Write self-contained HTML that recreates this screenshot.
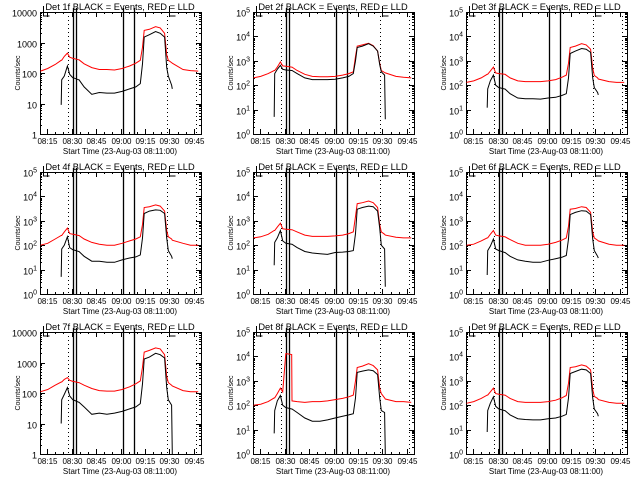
<!DOCTYPE html>
<html><head><meta charset="utf-8"><style>
html,body{margin:0;padding:0;background:#fff;}
svg{display:block;font-family:"Liberation Sans",sans-serif;}
</style></head><body>
<svg id="chart" width="640" height="480" viewBox="0 0 640 480" xmlns="http://www.w3.org/2000/svg"></svg>
<script>
// shared time grid: minutes after 08:00
const times = [11,15.4,20,23.7,24,25.6,27.5,28.9,30.8,31,34.4,34.6,37.7,42.4,47,51.7,56.3,61,65.6,69.4,72.1,73.5,74.5,77.7,81.5,84.3,87,88.3,89.3,91.3,91.7,98.3,102.9,107.6];
const n = null;
const panelNames = ["Det 1f","Det 2f","Det 3f","Det 4f","Det 5f","Det 6f","Det 7f","Det 8f","Det 9f"];
const panelDecades = [4,5,5,5,5,5,4,5,5];
const red1 = [115,140,190,260,260,350,450,330,300,300,270,270,200,150,130,130,125,140,170,210,260,700,2500,2700,3300,3000,2000,400,260,220,210,130,120,115];
const black1 = [n,n,n,9,60,80,170,90,70,70,60,60,35,20,23,22,22,25,30,35,45,200,1500,1800,2300,2000,1500,150,80,40,30,n,n,n];
const red2 = [200,230,300,400,400,550,900,620,600,600,550,550,400,280,230,220,220,230,260,300,350,1500,4000,4500,5200,4200,2500,800,400,330,320,230,210,200];
const black2 = [n,n,n,5,300,450,650,450,420,420,400,400,300,200,170,170,170,175,200,230,300,1000,3500,4000,5000,4000,2500,700,350,260,4,n,n,n];
const red3 = [130,150,200,280,280,380,550,320,300,300,280,280,200,150,140,140,140,150,170,210,260,800,3500,4000,5000,4500,3000,500,250,200,180,140,130,130];
const black3 = [n,n,n,12,70,150,260,100,80,80,70,70,45,30,28,28,27,30,32,38,45,200,2000,2500,3200,3000,2200,200,80,50,40,n,n,n];
const red4 = [100,120,180,250,250,350,500,300,280,280,250,250,180,130,110,100,100,120,150,180,220,700,3500,3800,4500,4000,2500,400,220,180,160,120,100,100];
const black4 = [n,n,n,5,70,100,220,80,65,65,55,55,35,22,22,20,20,25,30,33,40,200,2000,2500,2800,2700,2000,200,60,35,28,n,n,n];
const red5 = [200,220,280,400,400,550,800,470,450,450,430,430,350,260,230,230,230,240,260,300,350,1500,5000,5500,6500,5500,3500,700,350,280,260,210,200,200];
const black5 = [n,n,n,15,130,200,400,150,120,120,110,110,80,55,48,45,42,50,52,55,60,300,3000,3500,4000,3800,2500,500,100,70,2,n,n,n];
const red6 = [100,110,150,200,200,280,400,260,240,240,220,220,170,120,100,100,100,110,130,160,200,600,3000,3200,3800,3500,2200,350,200,160,150,110,100,100];
const black6 = [n,n,n,6,60,90,180,70,60,60,50,50,35,25,22,20,20,24,28,32,38,180,1800,2200,2600,2500,1800,180,60,35,30,n,n,n];
const red7 = [110,130,180,230,230,280,320,260,240,240,220,220,180,140,120,115,115,130,160,200,250,700,2200,2500,3000,2800,1800,350,220,180,170,120,110,110];
const black7 = [n,n,n,10,60,90,150,80,60,60,50,50,35,20,22,20,22,25,30,35,45,200,1300,1500,2000,1800,1400,150,60,40,1,n,n,n];
const red8 = [100,110,140,200,200,300,500,350,13000,13000,12000,150,140,130,140,140,150,170,190,220,260,1000,3500,4000,5000,4200,2800,500,300,200,180,140,140,130];
const black8 = [n,n,n,7,60,150,250,100,80,80,70,70,50,30,22,22,25,30,35,40,45,200,2200,2500,2800,2600,1800,200,60,50,1,n,n,n];
const red9 = [120,140,190,260,260,350,500,300,280,280,260,260,190,140,130,130,130,140,160,200,250,800,3500,3800,4500,4000,2800,450,230,190,170,130,120,120];
const black9 = [n,n,n,8,60,120,220,90,70,70,60,60,40,28,26,25,25,28,30,35,42,200,2000,2400,3000,2800,2000,200,70,45,35,n,n,n];
const redSeries = [red1,red2,red3,red4,red5,red6,red7,red8,red9];
const blackSeries = [black1,black2,black3,black4,black5,black6,black7,black8,black9];
const xTickMinutes = [15,30,45,60,75,90,105];
const xTickLabels = ["08:15","08:30","08:45","09:00","09:15","09:30","09:45"];
const solidMarkers = [30.9,32.7,61.5,68.3];
const dottedMarkers = [27.8,88.5,106.2];

const NS = "http://www.w3.org/2000/svg";
const svg = document.getElementById("chart");
const X0 = 40, X1 = 201, Y0 = 12, Y1 = 134, T0 = 10.7, T1 = 109.3;
function mk(tag, attrs, parent) {
  const e = document.createElementNS(NS, tag);
  for (const k in attrs) e.setAttribute(k, attrs[k]);
  parent.appendChild(e);
  return e;
}
function xScale(t) { return X0 + (t - T0) / (T1 - T0) * (X1 - X0); }

for (let p = 0; p < 9; p++) {
  const ox = (p % 3) * 213, oy = Math.floor(p / 3) * 160;
  const dec = panelDecades[p];
  const yScale = v => Y1 - Math.log10(Math.max(v, 1)) / dec * (Y1 - Y0);
  const g = mk("g", {transform: "translate(" + ox + "," + oy + ")"}, svg);
  
  

  const frame = mk("rect", {x: X0 + 0.5, y: Y0 + 0.5, width: X1 - X0, height: Y1 - Y0, fill: "none", stroke: "#000", "stroke-width": 1}, g);
  
  

  for (let d = 0; d <= dec; d++) {
    const y = Math.round(yScale(Math.pow(10, d))) + 0.5;
    mk("line", {x1: X0, x2: X0 + 5, y1: y, y2: y, stroke: "#000"}, g);
    mk("line", {x1: X1 - 5, x2: X1, y1: y, y2: y, stroke: "#000"}, g);
    const lab = mk("text", {x: X0 - 3, y: y + 4, "text-anchor": "end", "font-size": 9}, g);
    
    
    if (dec === 4) {
      lab.textContent = String(Math.pow(10, d));
    } else {
      lab.textContent = "10";
      const sup = mk("tspan", {dy: -4, "font-size": 7}, lab);
      sup.textContent = String(d);
    }
    if (d < dec) {
      for (let m = 2; m <= 9; m++) {
        const ym = Math.round(yScale(m * Math.pow(10, d))) + 0.5;
        mk("line", {x1: X0, x2: X0 + 2, y1: ym, y2: ym, stroke: "#000"}, g);
        mk("line", {x1: X1 - 2, x2: X1, y1: ym, y2: ym, stroke: "#000"}, g);
      }
    }
  }
  for (let i = 0; i < xTickMinutes.length; i++) {
    const x = Math.round(xScale(xTickMinutes[i])) + 0.5;
    mk("line", {x1: x, x2: x, y1: Y1, y2: Y1 - 5, stroke: "#000"}, g);
    mk("line", {x1: x, x2: x, y1: Y0, y2: Y0 + 5, stroke: "#000"}, g);
    for (let m = 5; m < 15; m += 5) {
      const xm = Math.round(xScale(xTickMinutes[i] + m)) + 0.5;
      if (xm < X1) {
        mk("line", {x1: xm, x2: xm, y1: Y1, y2: Y1 - 2, stroke: "#000"}, g);
        mk("line", {x1: xm, x2: xm, y1: Y0, y2: Y0 + 2, stroke: "#000"}, g);
      }
    }
    const lab = mk("text", {x: x, y: Y1 + 10, "text-anchor": "middle", "font-size": 8}, g);
    
    
    lab.textContent = xTickLabels[i];
  }
  for (const t of dottedMarkers) {
    const x = Math.round(xScale(t)) + 0.5;
    const l = mk("line", {x1: x, x2: x, y1: Y0, y2: Y1, stroke: "#000", "stroke-dasharray": "1,3"}, g);
    
    
  }
  for (const t of solidMarkers) {
    const x = Math.round(xScale(t)) + 0.5;
    const l = mk("line", {x1: x, x2: x, y1: Y0 - 4, y2: Y1, stroke: "#000", "stroke-width": 1.3}, g);
    
    
  }
  for (const t of [12.5, 89.5]) {
    const x = Math.round(xScale(t)) + 0.5;
    const b = mk("path", {d: "M" + x + " " + (Y0 - 6) + " V" + (Y0 + 4) + " H" + (x + 6), fill: "none", stroke: "#000"}, g);
    
    
  }

  const drawSeries = (vals, color, name) => {
    let d = "", pen = false;
    for (let i = 0; i < times.length; i++) {
      if (vals[i] === null) { pen = false; continue; }
      const x = xScale(times[i]).toFixed(1), y = yScale(vals[i]).toFixed(1);
      d += (pen ? " L" : " M") + x + " " + y;
      pen = true;
    }
    const path = mk("path", {d: d, fill: "none", stroke: color, "stroke-width": 1}, g);
    
    
  };
  drawSeries(redSeries[p], "#ff0000", "lld-series-red");
  drawSeries(blackSeries[p], "#000000", "events-series-black");

  const title = mk("text", {x: 120, y: 10, "text-anchor": "middle", "font-size": 9.3}, g);
  
  
  title.textContent = panelNames[p] + " BLACK = Events, RED = LLD";
  const yt = mk("text", {x: 0, y: 0, "text-anchor": "middle", "font-size": 7, transform: "translate(20,73) rotate(-90)"}, g);
  
  
  yt.textContent = "Counts/sec";
  const xt = mk("text", {x: 120, y: 154, "text-anchor": "middle", "font-size": 8}, g);
  
  
  xt.textContent = "Start Time (23-Aug-03 08:11:00)";
}
</script>
</body></html>
